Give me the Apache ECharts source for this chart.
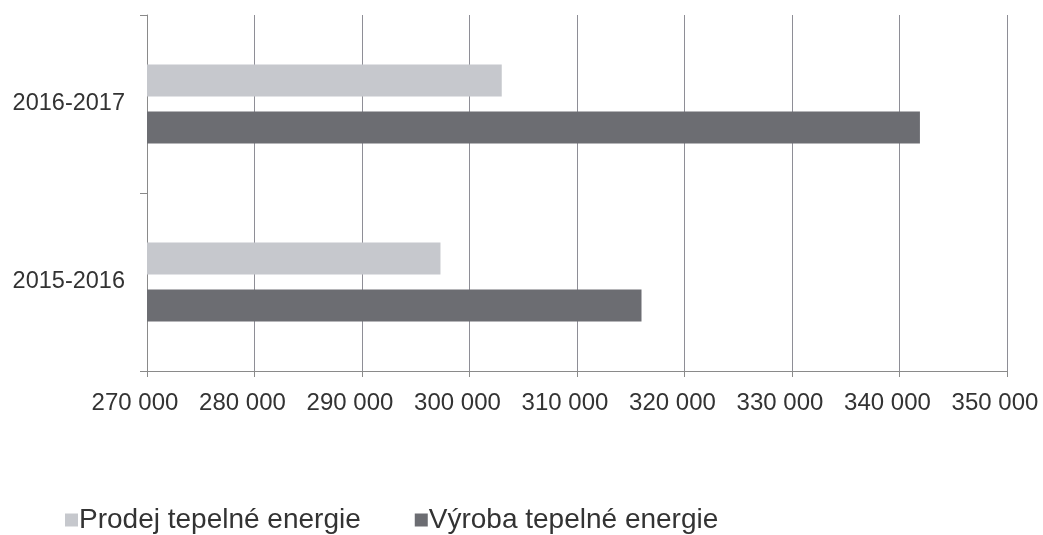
<!DOCTYPE html>
<html>
<head>
<meta charset="utf-8">
<script src="https://cdn.jsdelivr.net/npm/echarts@6/dist/echarts.min.js"></script>
<style>
html,body{margin:0;padding:0;background:#fff;}
#chart{width:1043px;height:535px;}
</style>
</head>
<body>
<div id="chart"></div>
<script>
const categories = ['2015-2016', '2016-2017'];
const prodej = [297300, 303000];
const vyroba = [316000, 341900];
const seriesNames = ['Prodej tepelné energie', 'Výroba tepelné energie'];
const xMin = 270000, xMax = 350000, xStep = 10000;

const chart = echarts.init(document.getElementById('chart'));
const fmt = v => String(v).replace(/\B(?=(\d{3})+(?!\d))/g, ' ');
chart.setOption({
  animation: false,
  backgroundColor: '#ffffff',
  textStyle: { fontFamily: 'Liberation Sans, Arial, sans-serif' },
  grid: { left: 147, right: 36, top: 15, bottom: 164, containLabel: false, outerBoundsMode: 'none' },
  legend: {
    left: 60, top: 501,
    itemWidth: 13, itemHeight: 13, itemGap: 54,
    icon: 'rect',
    textStyle: { fontSize: 28, color: '#333', fontFamily: 'Liberation Sans, Arial, sans-serif', padding: [0,0,0,-4] },
    data: seriesNames
  },
  xAxis: {
    type: 'value', min: xMin, max: xMax, interval: xStep,
    axisLine: { show: true, lineStyle: { color: '#8a8a8a', width: 1 } },
    axisTick: { show: true, length: 6, lineStyle: { color: '#8a8a8a' } },
    splitLine: { show: true, lineStyle: { color: '#8e8e96', width: 1 } },
    axisLabel: { fontSize: 24, color: '#333', margin: 20, formatter: fmt, padding: [0, 24, 0, 0], fontFamily: 'Liberation Sans, Arial, sans-serif' }
  },
  yAxis: {
    type: 'category', data: categories,
    axisLine: { show: true, lineStyle: { color: '#8a8a8a', width: 1 } },
    axisTick: { show: true, length: 7, lineStyle: { color: '#8a8a8a' } },
    axisLabel: { fontSize: 23.5, color: '#333', margin: 22, fontFamily: 'Liberation Sans, Arial, sans-serif' }
  },
  series: [
    { name: seriesNames[0], type: 'bar', data: prodej, barWidth: 32, barGap: '47%',
      itemStyle: { color: '#c6c8cd' } },
    { name: seriesNames[1], type: 'bar', data: vyroba, barWidth: 32, barGap: '47%',
      itemStyle: { color: '#6c6d72' } }
  ]
});
</script>
</body>
</html>
